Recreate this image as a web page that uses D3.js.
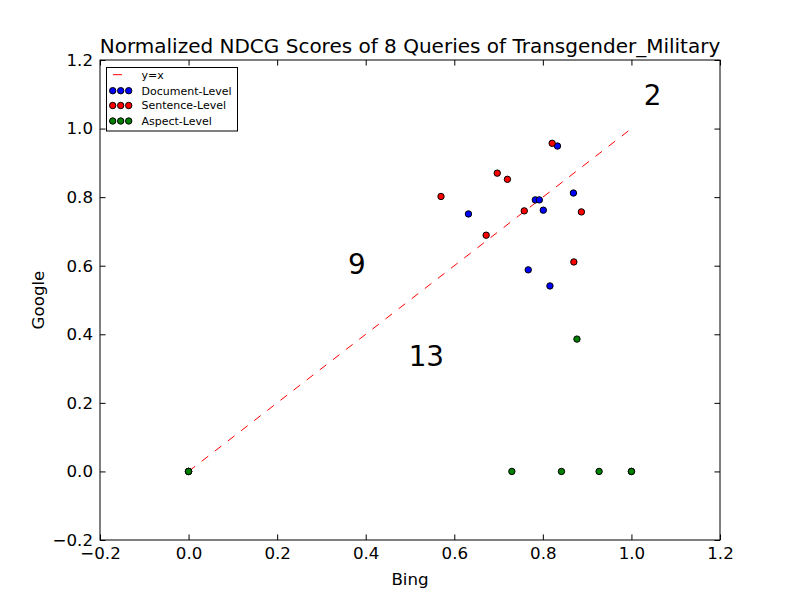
<!DOCTYPE html>
<html>
<head>
<meta charset="utf-8">
<script src="https://cdn.jsdelivr.net/npm/d3@7"></script>
<style>
  html, body { margin: 0; padding: 0; background: #fff; }
  svg { display: block; font-family: "DejaVu Sans", sans-serif; }
</style>
</head>
<body>
<svg id="chart" width="800" height="600"></svg>
<script>
// ---- data ----
const docBing      = [0.632, 0.767, 0.816, 0.833, 0.869, 0.783, 0.792, 0.801];
const docGoogle    = [0.751, 0.588, 0.541, 0.949, 0.812, 0.792, 0.792, 0.762];
const sentBing     = [0.000, 0.570, 0.697, 0.720, 0.672, 0.758, 0.821, 0.887, 0.870];
const sentGoogle   = [0.000, 0.802, 0.870, 0.852, 0.689, 0.760, 0.957, 0.757, 0.611];
const aspBing      = [0.000, 0.000, 0.730, 0.842, 0.927, 1.000, 1.000, 0.877];
const aspGoogle    = [0.000, 0.000, 0.000, 0.000, 0.000, 0.000, 0.000, 0.386];
const lineX        = [0, 1];
const lineY        = [0, 1];
const xTicks       = [-0.2, 0.0, 0.2, 0.4, 0.6, 0.8, 1.0, 1.2];
const yTicks       = [-0.2, 0.0, 0.2, 0.4, 0.6, 0.8, 1.0, 1.2];
const annotText    = ["2", "9", "13"];
const annotX       = [1.028, 0.36, 0.497];
const annotY       = [1.069, 0.577, 0.308];
const seriesNames  = ["Document-Level", "Sentence-Level", "Aspect-Level"];
const seriesColors = ["#0000ff", "#ff0000", "#008000"];
const titleText    = "Normalized NDCG Scores of 8 Queries of Transgender_Military";

// ---- layout ----
const svg = d3.select("#chart");
const L = 100, R = 720, T = 60, B = 540;
const x = d3.scaleLinear().domain([-0.2, 1.2]).range([L, R]);
const y = d3.scaleLinear().domain([-0.2, 1.2]).range([B, T]);
const fmt = v => d3.format(".1f")(v).replace("-", "\u2212");
const tickLen = 5.56;
const tickFont = 16.67;

// background
svg.append("rect").attr("width", 800).attr("height", 600).attr("fill", "#fff");

// y=x line
const line = d3.line().x(d => x(d[0])).y(d => y(d[1]));
svg.append("path")
  .datum(lineX.map((v, i) => [v, lineY[i]]))
  .attr("d", line)
  .attr("fill", "none")
  .attr("stroke", "#ff0000")
  .attr("stroke-width", 1)
  .attr("stroke-dasharray", "8.3,8.3");

// scatter series
const series = [
  [docBing, docGoogle],
  [sentBing, sentGoogle],
  [aspBing, aspGoogle]
];
series.forEach((s, k) => {
  svg.append("g").selectAll("circle")
    .data(s[0].map((v, i) => [v, s[1][i]]))
    .join("circle")
    .attr("cx", d => x(d[0]))
    .attr("cy", d => y(d[1]))
    .attr("r", 3.2)
    .attr("fill", seriesColors[k])
    .attr("stroke", "#000")
    .attr("stroke-width", 1);
});

// annotations
svg.append("g").selectAll("text")
  .data(annotText)
  .join("text")
  .attr("x", (d, i) => x(annotX[i]))
  .attr("y", (d, i) => y(annotY[i]))
  .attr("font-size", 27.8)
  .attr("fill", "#000")
  .text(d => d);

// axes (ticks inside on all four sides)
const axB = d3.axisBottom(x).tickValues(xTicks).tickSize(-tickLen).tickPadding(7).tickFormat(fmt);
const axT = d3.axisTop(x).tickValues(xTicks).tickSize(-tickLen).tickFormat("");
const axLft = d3.axisLeft(y).tickValues(yTicks).tickSize(-tickLen).tickPadding(7).tickFormat(fmt);
const axRt = d3.axisRight(y).tickValues(yTicks).tickSize(-tickLen).tickFormat("");

function styleAxis(g) {
  g.select(".domain").remove();
  g.selectAll("line").attr("stroke", "#000").attr("stroke-width", 1);
  g.selectAll("text").attr("font-size", tickFont).attr("fill", "#000")
    .attr("font-family", "DejaVu Sans, sans-serif");
}
svg.append("g").attr("transform", `translate(0,${B})`).call(axB).call(styleAxis);
svg.append("g").attr("transform", `translate(0,${T})`).call(axT).call(styleAxis);
svg.append("g").attr("transform", `translate(${L},0)`).call(axLft).call(styleAxis);
svg.append("g").attr("transform", `translate(${R},0)`).call(axRt).call(styleAxis);

// frame
svg.append("rect")
  .attr("x", L).attr("y", T).attr("width", R - L).attr("height", B - T)
  .attr("fill", "none").attr("stroke", "#000").attr("stroke-width", 1);

// title & labels
svg.append("text").attr("x", (L + R) / 2).attr("y", 53)
  .attr("text-anchor", "middle").attr("font-size", 20).attr("fill", "#000")
  .text(titleText);
svg.append("text").attr("x", (L + R) / 2).attr("y", 585)
  .attr("text-anchor", "middle").attr("font-size", 16.67).attr("fill", "#000")
  .text("Bing");
svg.append("text").attr("transform", `translate(44,${(T + B) / 2}) rotate(-90)`)
  .attr("text-anchor", "middle").attr("font-size", 16.67).attr("fill", "#000")
  .text("Google");

// legend
const lg = svg.append("g");
lg.append("rect").attr("x", 106.5).attr("y", 67.5).attr("width", 131).attr("height", 63.5)
  .attr("fill", "#fff").attr("stroke", "#000").attr("stroke-width", 1);
const rowY = [74.7, 90.7, 105.5, 121];
lg.append("line").attr("x1", 113).attr("x2", 122).attr("y1", rowY[0]).attr("y2", rowY[0])
  .attr("stroke", "#ff0000").attr("stroke-width", 1);
lg.append("text").attr("x", 141.5).attr("y", rowY[0] + 3.8).attr("font-size", 11).text("y=x");
seriesNames.forEach((name, k) => {
  [112.7, 120.7, 128.7].forEach(cx => {
    lg.append("circle").attr("cx", cx).attr("cy", rowY[k + 1]).attr("r", 3.2)
      .attr("fill", seriesColors[k]).attr("stroke", "#000").attr("stroke-width", 1);
  });
  lg.append("text").attr("x", 141.5).attr("y", rowY[k + 1] + 3.8).attr("font-size", 11).text(name);
});
</script>
</body>
</html>
